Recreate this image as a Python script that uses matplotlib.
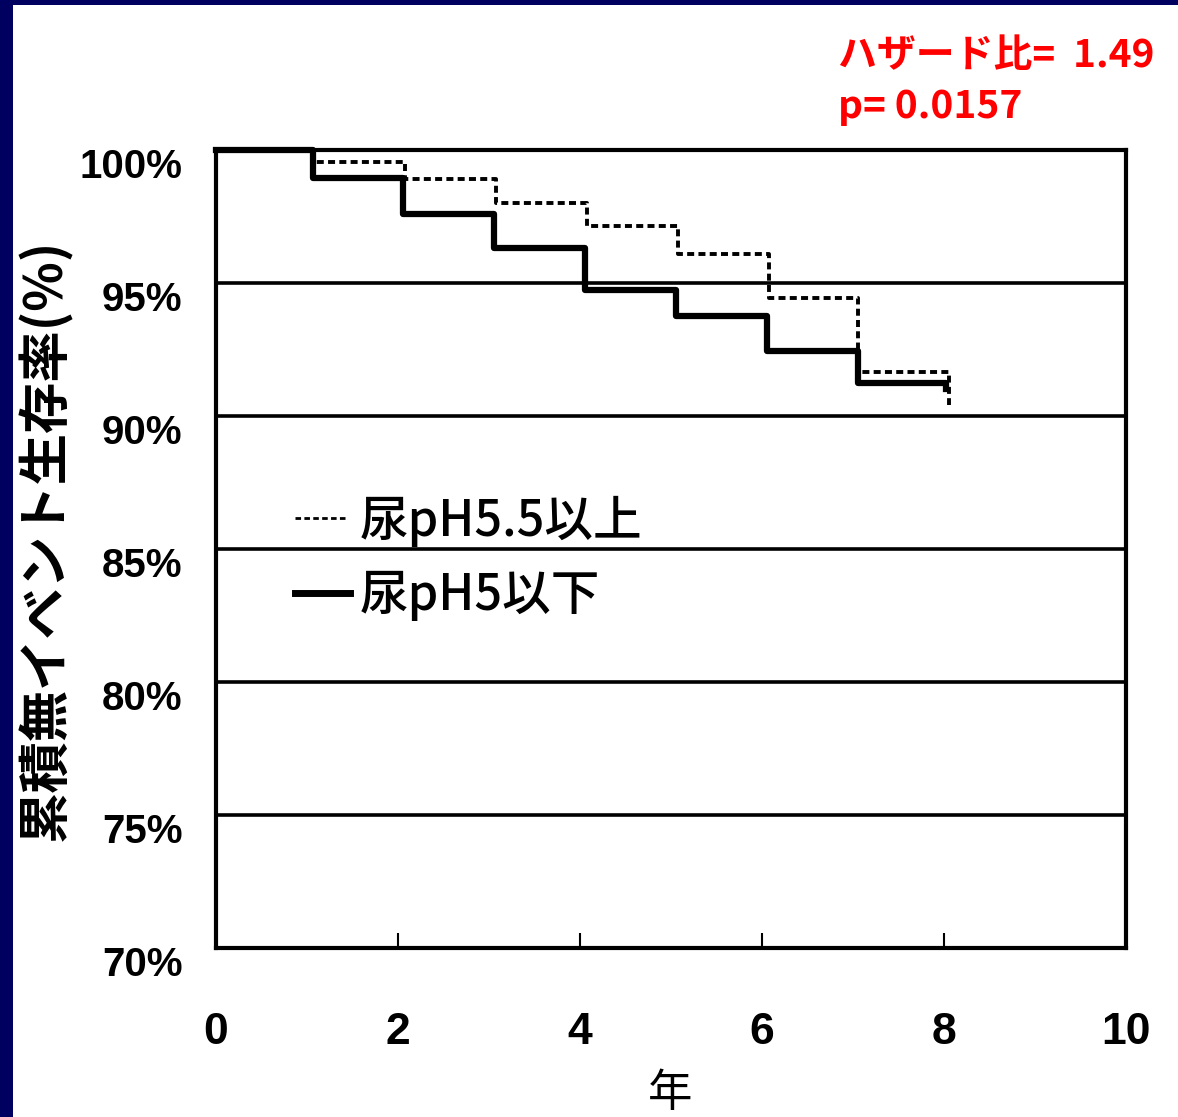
import matplotlib
matplotlib.use('Agg')
import matplotlib.pyplot as plt
import matplotlib.transforms as mtransforms
from matplotlib.patches import Rectangle

# Kaplan-Meier style data
years_hi = [0, 1.08, 2.08, 3.08, 4.08, 5.08, 6.08, 7.05, 8.05]
surv_hi = [100, 99.55, 98.9, 98.0, 97.15, 96.1, 94.45, 91.65, 90.4]   # 尿pH5.5以上 (dotted)
years_lo = [0, 1.07, 2.06, 3.06, 4.06, 5.06, 6.05, 7.05, 8.02]
surv_lo = [100, 98.95, 97.6, 96.3, 94.75, 93.75, 92.45, 91.25, 91.0]  # 尿pH5以下 (solid)

yticks = [70, 75, 80, 85, 90, 95, 100]
ytick_labels = ['70%', '75%', '80%', '85%', '90%', '95%', '100%']
xticks = [0, 2, 4, 6, 8, 10]
label_hi = '尿pH5.5以上'
label_lo = '尿pH5以下'
hazard_text = 'ハザード比=  1.49'
p_text = 'p= 0.0157'

W, H = 1178, 1117
fig = plt.figure(figsize=(W / 100, H / 100), dpi=100)
fig.patch.set_facecolor('#000060')
fig.patches.append(Rectangle((13 / W, 0), 1, 1 - 5 / H, transform=fig.transFigure,
                             facecolor='white', edgecolor='none', zorder=-5))

ax = fig.add_axes([216 / W, 1 - 948 / H, 910 / W, 798 / H])
ax.set_facecolor('white')
ax.set_xlim(0, 10)
ax.set_ylim(70, 100)

for g in [75, 80, 85, 90, 95]:
    ax.axhline(g, color='black', lw=2.6, zorder=1)

ax.plot(years_hi, surv_hi, drawstyle='steps-post', color='black', lw=2.8,
        linestyle=(0, (1.8, 1.1)), zorder=3, clip_on=False)
ax.plot(years_lo, surv_lo, drawstyle='steps-post', color='black', lw=4.5,
        zorder=3, clip_on=False)

for s in ax.spines.values():
    s.set_linewidth(3)

ax.set_yticks(yticks)
ax.set_yticklabels(ytick_labels)
ax.set_xticks(xticks)
ax.set_xticklabels([str(t) for t in xticks])
ax.tick_params(axis='y', length=0, pad=24)
ax.tick_params(axis='x', direction='in', length=11, width=1.5, pad=46)
shift = mtransforms.ScaledTranslation(0, -9 / 72, fig.dpi_scale_trans)
for lab in ax.get_yticklabels():
    lab.set_family('Liberation Sans')
    lab.set_fontweight('bold')
    lab.set_fontsize(29)
    lab.set_transform(lab.get_transform() + shift)
for lab in ax.get_xticklabels():
    lab.set_family('Liberation Sans')
    lab.set_fontweight('bold')
    lab.set_fontsize(32)

# legend drawn by hand inside the plot
ax.plot([0.87, 1.42], [86.15, 86.15], color='black', lw=2, linestyle=(0, (2, 1.2)))
ax.plot([0.87, 1.47], [83.35, 83.35], color='black', lw=5)
ax.text(1.58, 86.05, label_hi, fontsize=35, family='Noto Sans CJK JP',
        fontweight='medium', va='center', ha='left')
ax.text(1.58, 83.25, label_lo, fontsize=35, family='Noto Sans CJK JP',
        fontweight='medium', va='center', ha='left')

fig.text(45 / W, 1 - 540 / H, '累積無イベント生存率(%)', rotation=90,
         fontsize=37, family='Noto Sans CJK JP', fontweight='bold',
         ha='center', va='center')
fig.text(670 / W, 1 - 1093 / H, '年', fontsize=32, family='Noto Sans CJK JP',
         ha='center', va='center')

fig.text(838 / W, 1 - 55 / H, hazard_text, color='red', fontsize=28,
         family='Noto Sans CJK JP', fontweight='bold', ha='left', va='center')
fig.text(838 / W, 1 - 106 / H, p_text, color='red', fontsize=28,
         family='Noto Sans CJK JP', fontweight='bold', ha='left', va='center')

fig.savefig('out.png', dpi=100, facecolor=fig.get_facecolor())
